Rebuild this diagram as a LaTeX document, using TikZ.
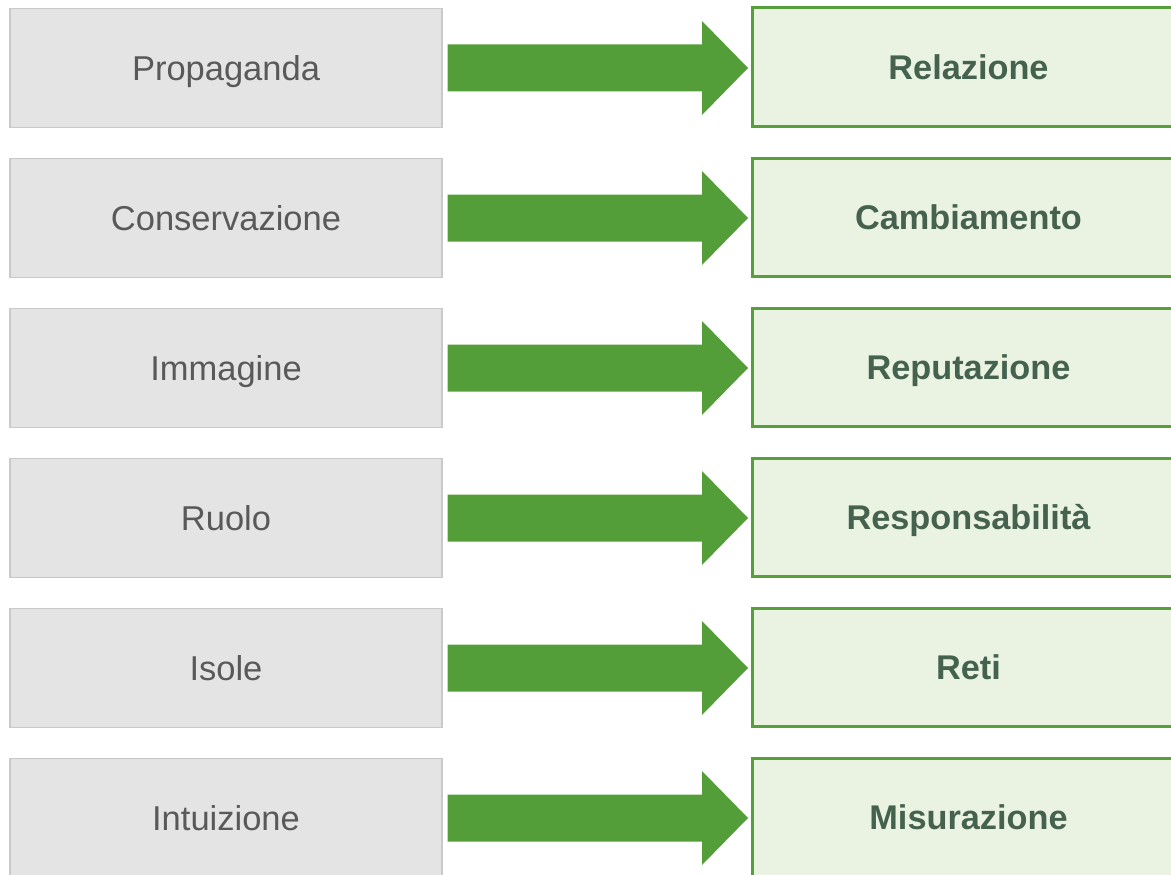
\documentclass[tikz,border=0pt]{standalone}
\usepackage{fontspec}
\setmainfont{Liberation Sans}
\usetikzlibrary{calc}
\definecolor{lfill}{HTML}{E4E4E4}
\definecolor{ldraw}{HTML}{C9C9C9}
\definecolor{ltext}{HTML}{595959}
\definecolor{rfill}{HTML}{EAF3E2}
\definecolor{rdraw}{HTML}{579F3B}
\definecolor{rtext}{HTML}{45624F}
\definecolor{arrowgreen}{HTML}{549E39}
\tikzset{
  leftbox/.style={draw=ldraw, line width=1.5pt, fill=lfill, minimum width=432pt, minimum height=119pt, inner sep=0pt, outer sep=0pt, text=ltext, text height=24.7pt, text depth=0pt, font=\fontsize{34.5}{40}\selectfont},
  rightbox/.style={draw=rdraw, line width=3pt, fill=rfill, minimum width=432pt, minimum height=118pt, inner sep=0pt, outer sep=0pt, text=rtext, text height=24.6pt, text depth=0pt, font=\fontsize{34.3}{40}\selectfont\bfseries},
  blockarrow/.style={fill=arrowgreen, draw=none}
}
\begin{document}
\begin{tikzpicture}[x=1pt,y=-1pt]
\useasboundingbox (0,0) rectangle (1171,875);
\foreach \i/\l/\r in {0/Propaganda/Relazione,1/Conservazione/Cambiamento,2/Immagine/Reputazione,3/Ruolo/Responsabilità,4/Isole/Reti,5/Intuizione/Misurazione}{
  \node[leftbox] (L\i) at (226, {68+150*\i}) {\l};
  \node[rightbox] (R\i) at (968.5, {67+150*\i}) {\r};
  \coordinate (A\i) at ($(L\i.east)+(5.5,0)$);
  \coordinate (T\i) at ($(R\i.west |- L\i.east)+(-4.5,0)$);
  \fill[blockarrow] ($(A\i)+(0,-23.5)$) -- ($(T\i)+(-46,-23.5)$) -- ($(T\i)+(-46,-47)$) -- (T\i) -- ($(T\i)+(-46,47)$) -- ($(T\i)+(-46,23.5)$) -- ($(A\i)+(0,23.5)$) -- cycle;
}
\end{tikzpicture}
\end{document}
